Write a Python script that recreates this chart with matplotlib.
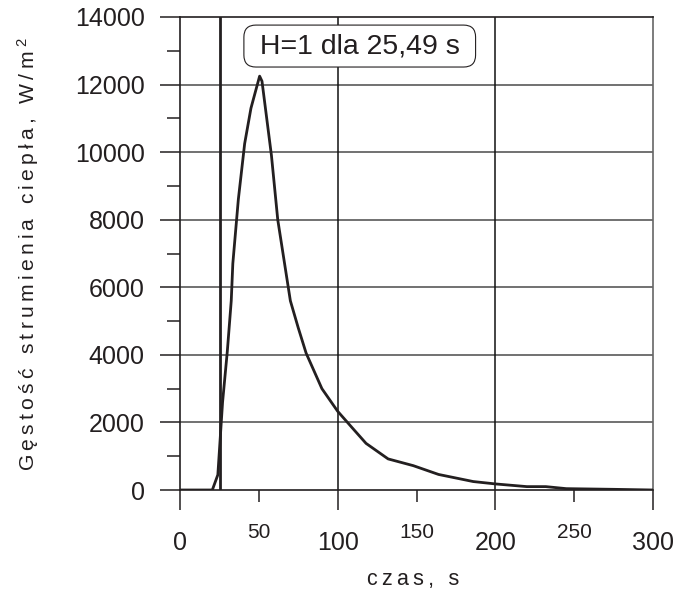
import matplotlib
matplotlib.use("Agg")
import matplotlib.pyplot as plt

# data
t = [0, 20.5, 24, 27, 30, 32.5, 33.5, 37, 41, 45, 50.5, 52, 55, 58, 62, 68, 70,
     75, 80, 90, 100, 110, 118, 132, 148, 164, 186, 200, 220, 232, 245, 275, 300]
q = [0, 0, 450, 2600, 4100, 5600, 6700, 8600, 10250, 11300, 12250, 12100, 11000,
     9900, 8000, 6200, 5600, 4800, 4050, 3000, 2330, 1800, 1380, 920, 720, 460,
     250, 180, 100, 100, 40, 20, 0]
t_H = 25.49
annot = "H=1 dla 25,49 s"
xmajor = [0, 100, 200, 300]
xminor = [50, 150, 250]
ymajor = list(range(0, 14001, 2000))
yminor = list(range(1000, 14000, 2000))
xlabel_txt = "czas, s"
ylabel_txt = "Gęstość strumienia ciepła, W/m"
ylabel_sup = "$^{2}$"

def spaced(s, sep="\u2009"):
    return sep.join(list(s))

plt.rcParams['font.family'] = ['Liberation Sans', 'DejaVu Sans']
plt.rcParams['mathtext.fontset'] = 'custom'
plt.rcParams['mathtext.rm'] = 'Liberation Sans'
plt.rcParams['mathtext.it'] = 'Liberation Sans'
plt.rcParams['mathtext.default'] = 'regular'
fam = ['Liberation Sans', 'DejaVu Sans']

fig = plt.figure(figsize=(6.79, 5.93), dpi=100)
ax = fig.add_axes([180/679, 1-490/593, (653-180)/679, (490-17)/593])

ax.set_xlim(0, 300)
ax.set_ylim(0, 14000)

for y in ymajor[1:-1]:
    ax.axhline(y, color='#4a4a4a', lw=1.1, zorder=1)
for x in xmajor[1:-1]:
    ax.axvline(x, color='#111111', lw=1.1, zorder=1)

ax.plot(t, q, color='#231f20', lw=2.0, zorder=3)
ax.axvline(t_H, color='#231f20', lw=2.0, zorder=3)

ax.text(114, 13140, " " + annot + " ", fontsize=20.5, ha='center', va='center', color='#231f20',
        bbox=dict(boxstyle='round,pad=0.28,rounding_size=0.42', fc='white', ec='#231f20', lw=0.8),
        zorder=4)

ax.set_xticks(xmajor)
ax.set_xticklabels([str(v) for v in xmajor], fontsize=18)
ax.set_xticks(xminor, minor=True)
ax.set_xticklabels([str(v) for v in xminor], minor=True, fontsize=15)
ax.set_yticks(ymajor)
ax.set_yticklabels([str(v) for v in ymajor], fontsize=18)
ax.set_yticks(yminor, minor=True)

ax.tick_params(axis='x', which='major', direction='out', length=14.4, width=1.1, pad=15, colors='#231f20')
ax.tick_params(axis='x', which='minor', direction='out', length=8.6, width=1.1, pad=15, colors='#231f20')
ax.tick_params(axis='y', which='major', direction='out', length=14.4, width=1.1, pad=11, colors='#231f20')
ax.tick_params(axis='y', which='minor', direction='out', length=9.3, width=1.1, colors='#231f20')

for s in ['left', 'bottom', 'top']:
    ax.spines[s].set_color('#231f20')
    ax.spines[s].set_linewidth(1.2)
ax.spines['right'].set_color('#666666')
ax.spines['right'].set_linewidth(1.2)

fig.text(413/679, 1-579/593, spaced(xlabel_txt), fontsize=15.5, family=fam,
         color='#231f20', ha='center', va='center')
fig.text(28/679, 1-254/593, spaced(ylabel_txt) + "\u2009" + ylabel_sup, fontsize=15.2, family=fam,
         color='#231f20', ha='center', va='center', rotation=90)

fig.savefig("out.png", dpi=100)
